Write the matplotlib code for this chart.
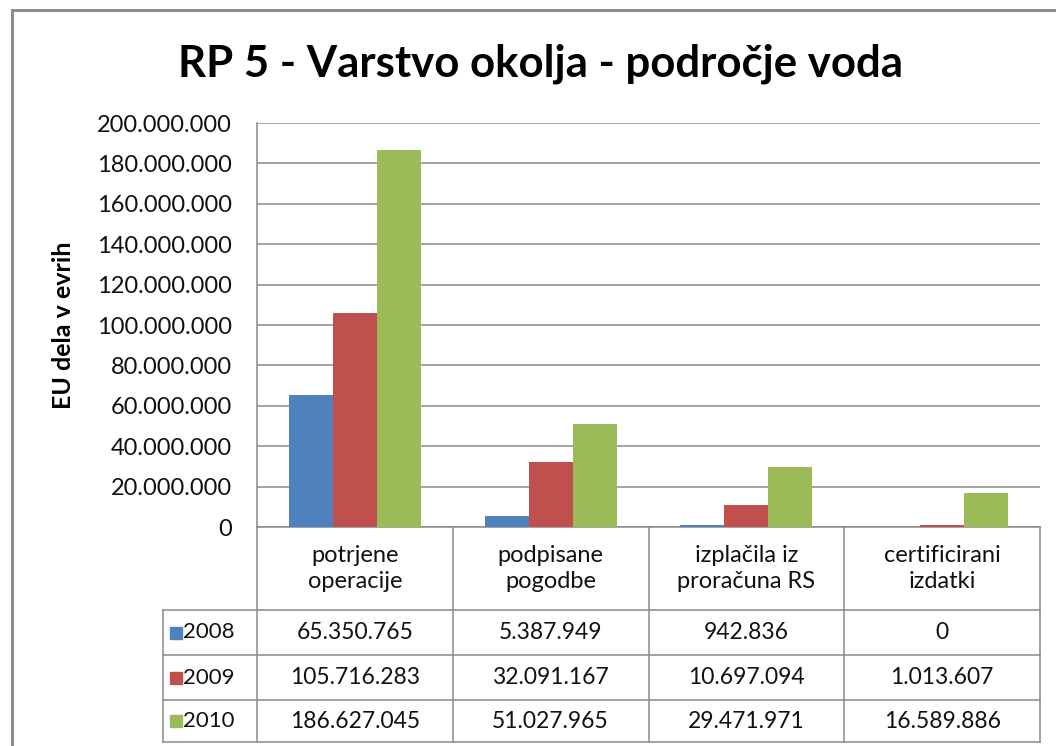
import matplotlib.pyplot as plt
import numpy as np
from matplotlib.patches import Rectangle
from matplotlib.ticker import FuncFormatter

categories = ["potrjene\noperacije", "podpisane\npogodbe",
              "izplačila iz\nproračuna RS", "certificirani\nizdatki"]
years = ["2008", "2009", "2010"]
v2008 = [65350765, 5387949, 942836, 0]
v2009 = [105716283, 32091167, 10697094, 1013607]
v2010 = [186627045, 51027965, 29471971, 16589886]
colors = ["#4F81BD", "#C0504D", "#9BBB59"]

plt.rcParams['font.family'] = ['Lato', 'DejaVu Sans']

def dots(v, pos=None):
    return f"{int(v):,}".replace(",", ".")

fig = plt.figure(figsize=(10.56, 7.46), dpi=100)
W, H = 1056, 746
# outer chart frame
fig.patches.append(Rectangle((12 / W, -0.1), 1.2, 1 - 10 / H + 0.1, transform=fig.transFigure,
                             fill=False, edgecolor="#8c8c8c", linewidth=2.2))

ax = fig.add_axes([257 / W, 1 - 527 / H, (1040 - 257) / W, (527 - 123) / H])
x = np.arange(len(categories))
w = 0.225
series = [v2008, v2009, v2010]
for i, (vals, c) in enumerate(zip(series, colors)):
    ax.bar(x + (i - 1) * w, vals, width=w, color=c, zorder=3)

ax.set_xlim(-0.5, len(categories) - 0.5)
ax.set_ylim(0, 200000000)
ax.set_yticks(np.arange(0, 200000001, 20000000))
ax.yaxis.set_major_formatter(FuncFormatter(dots))
ax.tick_params(axis='y', length=0, pad=18, labelsize=17, labelcolor="#111111")
ax.set_xticks([])
ax.grid(axis='y', color="#8a8a8a", linewidth=1.1, zorder=0)
for s in ['top', 'right', 'bottom', 'left']:
    ax.spines[s].set_visible(False)

ax.set_ylabel("EU dela v evrih", fontsize=18, fontweight='bold')
ax.yaxis.set_label_coords(-0.232, 0.5)
fig.text(540 / W, 1 - 64 / H, "RP 5 - Varstvo okolja - področje voda", ha='center', va='center',
         fontsize=31.5, fontweight='bold')

# data table under the axis
tr = ax.get_xaxis_transform()
lc = "#8a8a8a"
y_head = -(610 - 527) / 404
row_edges = [y_head, -(655 - 527) / 404, -(700 - 527) / 404, -(742 - 527) / 404]
x_left = -0.5 + (163 - 257) / 195.75
x_right = len(categories) - 0.5

ax.plot([-0.5, x_right], [0, 0], transform=tr, color=lc, lw=1.1, clip_on=False)
ax.plot([-0.5, -0.5], [0, 1], transform=tr, color=lc, lw=1.1, clip_on=False)
for ye in row_edges:
    ax.plot([x_left, x_right], [ye, ye], transform=tr, color=lc, lw=1.1, clip_on=False)
for xe in np.arange(len(categories) + 1) - 0.5:
    ax.plot([xe, xe], [0, row_edges[-1]], transform=tr, color=lc, lw=1.1, clip_on=False)
ax.plot([x_left, x_left], [y_head, row_edges[-1]], transform=tr, color=lc, lw=1.1, clip_on=False)

for j, cat in enumerate(categories):
    ax.text(j, y_head / 2, cat, transform=tr, ha='center', va='center',
            fontsize=17, linespacing=1.3, color="#111111")

for i, (yr, vals, c) in enumerate(zip(years, series, colors)):
    yc = (row_edges[i] + row_edges[i + 1]) / 2
    ax.plot([-0.5 + (175.5 - 257) / 195.75], [yc], marker='s', markersize=8.5, color=c,
            transform=tr, clip_on=False, linestyle='none')
    ax.text(-0.5 + (183 - 257) / 195.75, yc, yr, transform=tr, ha='left', va='center',
            fontsize=16, color="#111111")
    for j, v in enumerate(vals):
        ax.text(j, yc, dots(v), transform=tr, ha='center', va='center',
                fontsize=16.5, color="#111111")

fig.savefig("out.png", dpi=100)
